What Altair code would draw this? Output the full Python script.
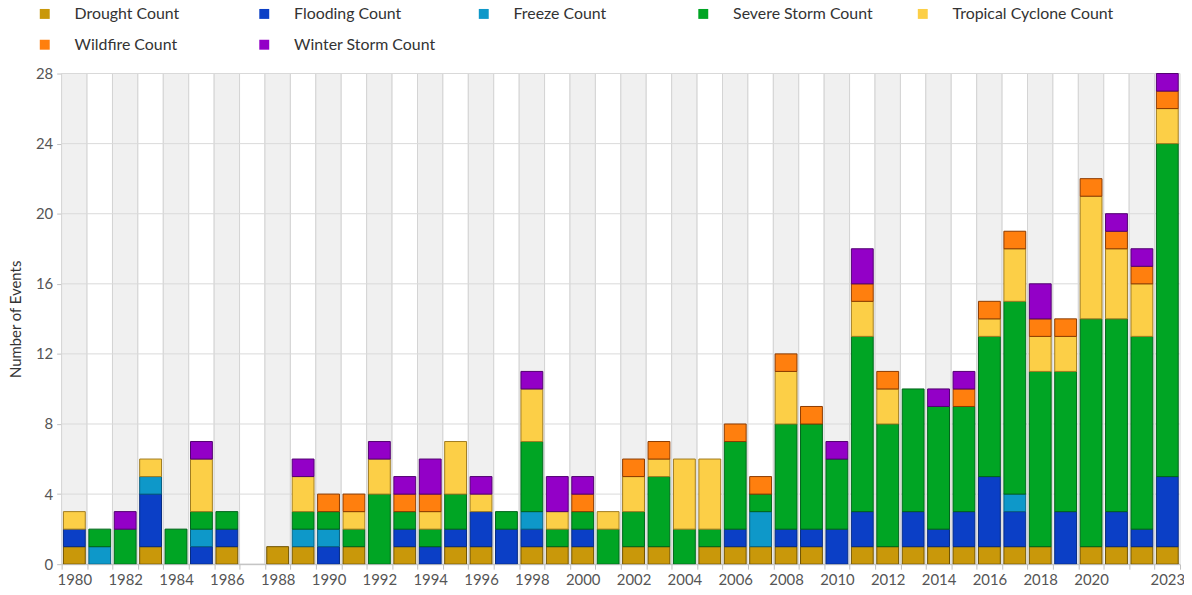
import altair as alt
import pandas as pd

years = list(range(1980, 2024))
types = ["Drought Count", "Flooding Count", "Freeze Count", "Severe Storm Count",
         "Tropical Cyclone Count", "Wildfire Count", "Winter Storm Count"]
colors = ["#C9980A", "#0B3FC6", "#0E98C9", "#00A524", "#FCCF47", "#FF7F0E", "#9300C7"]
strokes = ["#6e5200", "#062a80", "#086080", "#00641a", "#a07c20", "#8b3a00", "#520070"]

#            1980                          1990                          2000                          2010                          2020
drought  = [1,0,0,1,0,0,1,0,1,1, 0,1,0,1,0,1,1,0,1,1, 1,0,1,1,0,1,1,1,1,1, 0,1,1,1,1,1,1,1,1,0, 1,1,1,1]
flooding = [1,0,0,3,0,1,1,0,0,0, 1,0,0,1,1,1,2,2,1,0, 1,0,0,0,0,0,1,0,1,1, 2,2,0,2,1,2,4,2,0,3, 0,2,1,4]
freeze   = [0,1,0,1,0,1,0,0,0,1, 1,0,0,0,0,0,0,0,1,0, 0,0,0,0,0,0,0,2,0,0, 0,0,0,0,0,0,0,1,0,0, 0,0,0,0]
severe   = [0,1,2,0,2,1,1,0,0,1, 1,1,4,1,1,2,0,1,4,1, 1,2,2,4,2,1,5,1,6,6, 4,10,7,7,7,6,8,11,10,8, 13,11,11,19]
tropical = [1,0,0,1,0,3,0,0,0,2, 0,1,2,0,1,3,1,0,3,1, 0,1,2,1,4,4,0,0,3,0, 0,2,2,0,0,0,1,3,2,2, 7,4,3,2]
wildfire = [0,0,0,0,0,0,0,0,0,0, 1,1,0,1,1,0,0,0,0,0, 1,0,1,1,0,0,1,1,1,1, 0,1,1,0,0,1,1,1,1,1, 1,1,1,1]
winter   = [0,0,1,0,0,1,0,0,0,1, 0,0,1,1,2,0,1,0,1,2, 1,0,0,0,0,0,0,0,0,0, 1,2,0,0,1,1,0,0,2,0, 0,1,1,1]
series = [drought, flooding, freeze, severe, tropical, wildfire, winter]
y_ticks = [0, 4, 8, 12, 16, 20, 24, 28]

rows = []
for ti, (t, vals) in enumerate(zip(types, series)):
    for yr, v in zip(years, vals):
        if v > 0:
            rows.append({"year": yr, "type": t, "count": v, "idx": ti})
df = pd.DataFrame(rows)
bg = pd.DataFrame({"year": years, "even": [y % 2 == 0 for y in years]})
gl = pd.DataFrame({"v": y_ticks})

FONT = "Lato"
W, H = 1126, 494
xscale = alt.Scale(domain=years, paddingInner=0, paddingOuter=0)
yscale = alt.Scale(domain=[0, 28], nice=False)

x_axis = alt.Axis(
    tickBand="extent", labelAngle=0, title=None,
    labelExpr="(datum.value % 2 == 0 && datum.value != 2022) || datum.value == 2023 ? datum.value : ''",
    ticks=True, tickSize=5, tickColor="#c0c0c0", domainColor="#c0c0c0",
    grid=False, labelFont=FONT, labelFontSize=15, labelColor="#555555", labelPadding=3,
)
y_axis = alt.Axis(
    values=y_ticks, grid=False, ticks=True, tickSize=5, tickColor="#c0c0c0",
    domain=True, domainColor="#c0c0c0",
    title="Number of Events", titleFont=FONT, titleFontSize=15, titleFontWeight="normal",
    titleColor="#333333", labelFont=FONT, labelFontSize=15, labelColor="#555555",
    labelPadding=4, titlePadding=12,
)
legend = alt.Legend(
    title=None, orient="none", legendX=-25, legendY=-68, direction="horizontal",
    columns=5, symbolType="square", symbolSize=100, symbolStrokeWidth=0,
    labelFont=FONT, labelFontSize=16, labelColor="#333333", labelOffset=22,
    columnPadding=21, rowPadding=15, gridAlign="all", labelLimit=300,
)

background = alt.Chart(bg).mark_rect(stroke="#d4d4d4", strokeWidth=1).encode(
    x=alt.X("year:O", scale=xscale, axis=x_axis),
    y=alt.value(0),
    y2=alt.value(H),
    fill=alt.Fill("even:N", scale=alt.Scale(domain=[True, False], range=["#f0f0f0", "#ffffff"]), legend=None),
)

gridlines = alt.Chart(gl).mark_rule(color="#dadada", strokeWidth=1).encode(
    y=alt.Y("v:Q", scale=yscale, axis=y_axis),
)

bars = alt.Chart(df).mark_bar(width=alt.RelativeBandSize(0.86), strokeWidth=1).encode(
    x=alt.X("year:O", scale=xscale, axis=x_axis),
    y=alt.Y("count:Q", stack="zero", scale=yscale, axis=y_axis),
    fill=alt.Fill("type:N", scale=alt.Scale(domain=types, range=colors), legend=legend),
    stroke=alt.Stroke("type:N", scale=alt.Scale(domain=types, range=strokes), legend=None),
    order=alt.Order("idx:Q", sort="ascending"),
)

chart = alt.layer(background, gridlines, bars).resolve_scale(fill="independent").properties(
    width=W, height=H,
    autosize=alt.AutoSizeParams(type="none"),
    padding={"left": 54, "top": 64, "right": 4, "bottom": 21},
).configure_view(stroke=None)

chart.save("out.html", embed_options={"renderer": "svg", "actions": False})
